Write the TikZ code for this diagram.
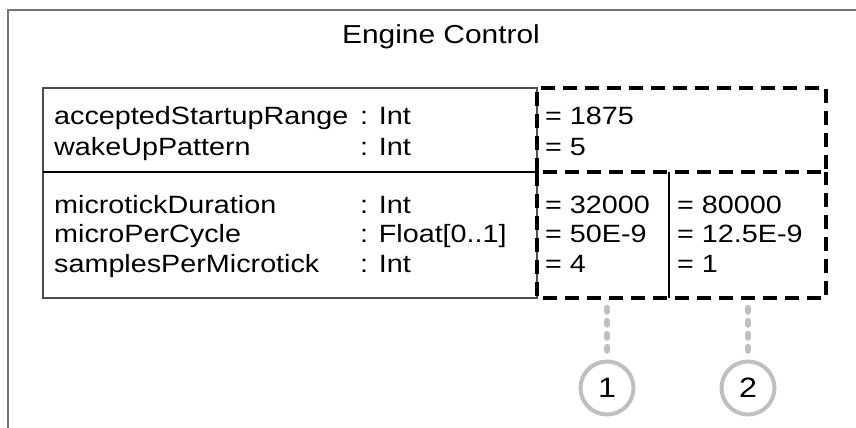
\documentclass[tikz,border=0pt]{standalone}
\usepackage{fontspec}
\setmainfont{Liberation Sans}[FakeStretch=1.15]
\usepackage{xcolor}
\definecolor{framegray}{rgb}{0.45,0.45,0.45}
\definecolor{tablegray}{rgb}{0.3,0.3,0.3}
\definecolor{markgray}{rgb}{0.75,0.75,0.75}
\usepackage{tikz}
\usetikzlibrary{positioning}

\begin{document}
\begin{tikzpicture}[x=1pt, y=-1pt,
  txt/.style={anchor=base west, inner sep=0pt, font=\fontsize{25}{30}\selectfont},
  valarea/.style={anchor=north west, inner sep=0pt, outer sep=0pt},
  valline/.style={draw=black, line width=4pt, dash pattern=on 14pt off 8pt},
  frameline/.style={draw=framegray, line width=1.5pt},
  tableline/.style={draw=tablegray, line width=1.5pt},
  divider/.style={draw=black, line width=2.8pt},
  marker/.style={circle, draw=markgray, line width=4pt, minimum size=53pt, inner sep=0pt, font=\fontsize{28}{30}\selectfont},
  leader/.style={draw=markgray, line width=6.5pt, line cap=round, dash pattern=on 3.5pt off 9.5pt}
]
\useasboundingbox (0,0) rectangle (856,428);
\draw[frameline] (856,10) -- (8,10) -- (8,428);
\node[txt, anchor=base, font=\fontsize{26}{30}\selectfont] (title) at (441,44) {Engine Control};
\draw[tableline] (43,88) rectangle (537,298);
\draw[tableline, draw=black] (43,172) -- (537,172);
\node[txt] (startupName) at (54,124) {acceptedStartupRange};
\node[txt] (startupType) at (360,124) {: Int};
\node[txt] (wakeName) at (54,155) {wakeUpPattern};
\node[txt] (wakeType) at (360,155) {: Int};
\node[txt] (durName) at (54,213) {microtickDuration};
\node[txt] (durType) at (360,213) {: Int};
\node[txt] (cycleName) at (54,242) {microPerCycle};
\node[txt] (cycleType) at (360,242) {: Float[0..1]};
\node[txt] (sampleName) at (54,272) {samplesPerMicrotick};
\node[txt] (sampleType) at (360,272) {: Int};
\node[valarea, minimum width=289pt, minimum height=84pt] (fixed) at (537,88) {};
\node[valarea, minimum width=132pt, minimum height=126pt] (sel1) at (537,172) {};
\node[valarea, minimum width=157pt, minimum height=126pt] (sel2) at (669,172) {};
\draw[valline] (fixed.south west) rectangle (fixed.north east);
\draw[valline] (sel1.north west) -- (sel1.south west) -- (sel2.south east) -- (sel2.north east);
\draw[divider] (sel1.north east) -- (sel1.south east);
\node[txt] (startupVal) at (545,124) {= 1875};
\node[txt] (wakeVal) at (545,155) {= 5};
\node[txt] (durValA) at (545,213) {= 32000};
\node[txt] (cycleValA) at (545,242) {= 50E-9};
\node[txt] (sampleValA) at (545,272) {= 4};
\node[txt] (durValB) at (677,213) {= 80000};
\node[txt] (cycleValB) at (677,242) {= 12.5E-9};
\node[txt] (sampleValB) at (677,272) {= 1};
\node[marker] (mark1) at (607,388) {1};
\node[marker] (mark2) at (748,388) {2};
\draw[leader, shorten <=10pt] (sel1.south -| mark1.north) -- (mark1.north);
\draw[leader, shorten <=10pt] (sel2.south -| mark2.north) -- (mark2.north);
\end{tikzpicture}
\end{document}
